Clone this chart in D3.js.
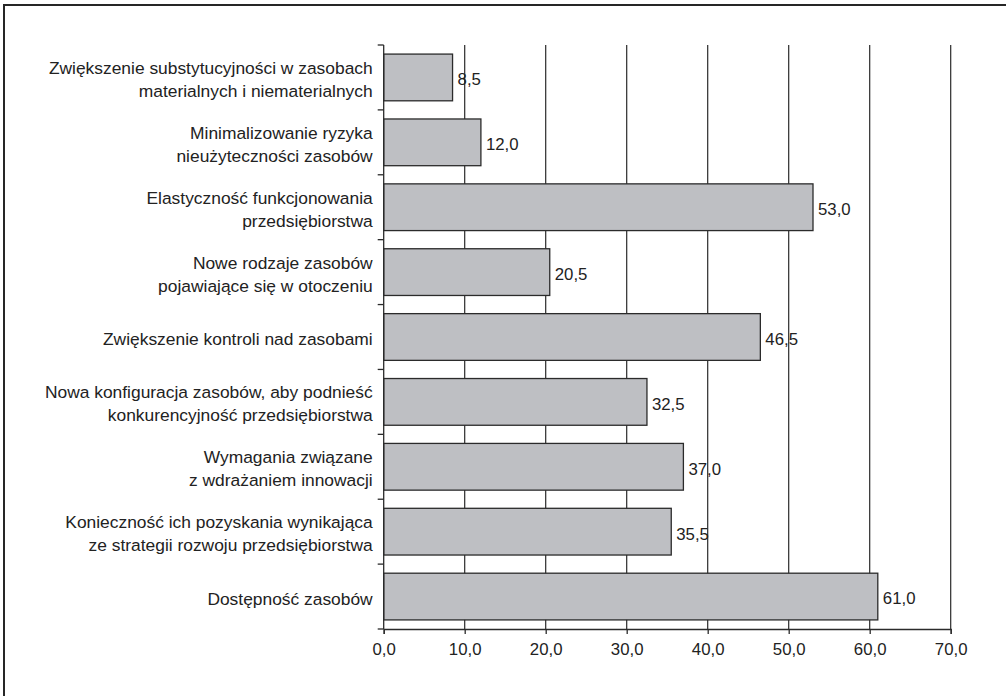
<!DOCTYPE html>
<html>
<head>
<meta charset="utf-8">
<script src="https://cdn.jsdelivr.net/npm/d3@7/dist/d3.min.js"></script>
<style>
  html, body { margin: 0; padding: 0; background: #fff; }
  svg { display: block; }
  text { font-family: "Liberation Sans", Arial, sans-serif; fill: #222; }
</style>
</head>
<body>
<svg id="chart" width="1006" height="696"></svg>
<script>
// Categories (top to bottom); "|" marks a line break in the label
const categories = [
  "Zwiększenie substytucyjności w zasobach|materialnych i niematerialnych",
  "Minimalizowanie ryzyka|nieużyteczności zasobów",
  "Elastyczność funkcjonowania|przedsiębiorstwa",
  "Nowe rodzaje zasobów|pojawiające się w otoczeniu",
  "Zwiększenie kontroli nad zasobami",
  "Nowa konfiguracja zasobów, aby podnieść|konkurencyjność przedsiębiorstwa",
  "Wymagania związane|z wdrażaniem innowacji",
  "Konieczność ich pozyskania wynikająca|ze strategii rozwoju przedsiębiorstwa",
  "Dostępność zasobów"
];
const values = [8.5, 12.0, 53.0, 20.5, 46.5, 32.5, 37.0, 35.5, 61.0];
const xTicks = [0, 10, 20, 30, 40, 50, 60, 70];

const plLocale = d3.formatLocale({ decimal: ",", thousands: " ", grouping: [3], currency: ["", " zł"] });
const fmt = plLocale.format(".1f");

const svg = d3.select("#chart");
const ink = "#2b2b2b";

// outer frame (open on the right and bottom edges of the page)
svg.append("rect")
  .attr("x", 4).attr("y", 5)
  .attr("width", 1100).attr("height", 800)
  .attr("fill", "none").attr("stroke", "#262626").attr("stroke-width", 2);

const plotLeft = 383.7, plotRight = 950.7, plotTop = 45, plotBottom = 629;

const x = d3.scaleLinear().domain([0, 70]).range([plotLeft, plotRight]);
const y = d3.scaleBand().domain(d3.range(categories.length)).range([plotTop, plotBottom]).paddingInner(0.28).paddingOuter(0.14);

// vertical gridlines
svg.append("g").selectAll("line")
  .data(xTicks.filter(d => d > 0))
  .join("line")
  .attr("x1", d => x(d)).attr("x2", d => x(d))
  .attr("y1", plotTop).attr("y2", plotBottom)
  .attr("stroke", ink).attr("stroke-width", 1.2);

// bars
svg.append("g").selectAll("rect")
  .data(values)
  .join("rect")
  .attr("x", x(0))
  .attr("y", (d, i) => y(i))
  .attr("width", d => x(d) - x(0))
  .attr("height", y.bandwidth())
  .attr("fill", "#bebfc3")
  .attr("stroke", ink).attr("stroke-width", 1.3);

// value labels
svg.append("g").selectAll("text")
  .data(values)
  .join("text")
  .attr("x", d => x(d) + 5)
  .attr("y", (d, i) => y(i) + y.bandwidth() / 2 + 2)
  .attr("dy", "0.35em")
  .attr("font-size", 16.8)
  .text(d => fmt(d));

// x axis
const xAxis = d3.axisBottom(x).tickValues(xTicks).tickFormat(fmt).tickSize(5).tickPadding(9);
const gx = svg.append("g").attr("transform", `translate(0,${plotBottom})`).call(xAxis);
gx.select(".domain").attr("stroke", ink).attr("stroke-width", 1.3);
gx.selectAll(".tick line").attr("stroke", ink).attr("stroke-width", 1.3);
gx.selectAll(".tick text").attr("font-size", 16.8).attr("fill", "#222")
  .attr("font-family", "'Liberation Sans', Arial, sans-serif");

// y axis line with ticks on the band boundaries
const step = (plotBottom - plotTop) / categories.length;
const boundaries = d3.range(categories.length + 1).map(i => plotTop + i * step);
svg.append("line")
  .attr("x1", plotLeft).attr("x2", plotLeft).attr("y1", plotTop).attr("y2", plotBottom)
  .attr("stroke", ink).attr("stroke-width", 1.3);
svg.append("g").selectAll("line")
  .data(boundaries)
  .join("line")
  .attr("x1", plotLeft - 6).attr("x2", plotLeft)
  .attr("y1", d => d).attr("y2", d => d)
  .attr("stroke", ink).attr("stroke-width", 1.3);

// category labels
const lineH = 23;
const labels = svg.append("g").selectAll("text")
  .data(categories)
  .join("text")
  .attr("text-anchor", "end")
  .attr("font-size", 17.4);
labels.each(function (d, i) {
  const lines = d.split("|");
  const cy = y(i) + y.bandwidth() / 2 + 2;
  const t = d3.select(this);
  lines.forEach((ln, k) => {
    t.append("tspan")
      .attr("x", plotLeft - 11)
      .attr("y", cy + (k - (lines.length - 1) / 2) * lineH)
      .attr("dy", "0.35em")
      .text(ln);
  });
});
</script>
</body>
</html>
